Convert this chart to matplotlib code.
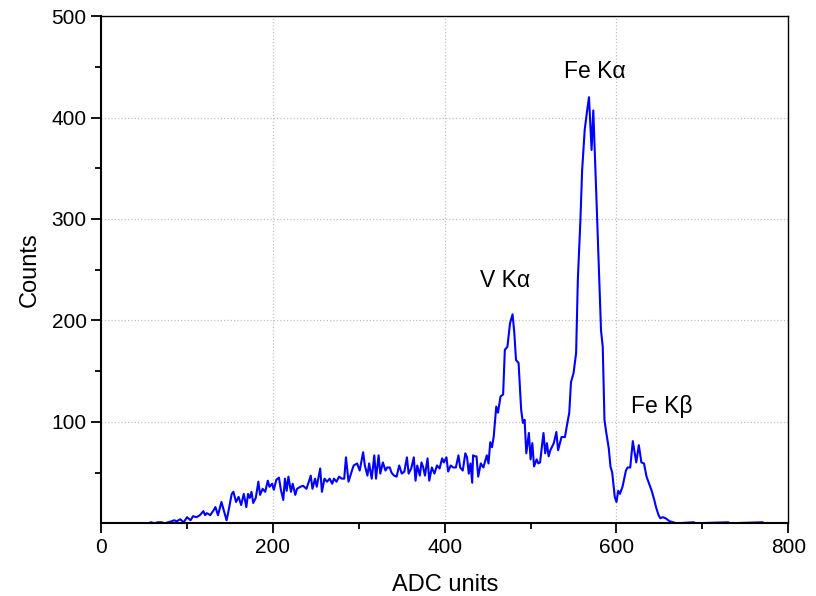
## Energy spectrum plot (ADC channel vs counts) with the main X-ray lines marked

import matplotlib.pyplot as plt
import numpy as np

plt.rcParams['font.family'] = ['Liberation Sans', 'DejaVu Sans']

## values, channel -> counts
adc = [0, 55, 58, 62, 66, 70, 74, 78, 82, 85, 88, 92, 96, 100, 104, 107, 111, 115,
       119, 121, 123, 127, 131, 133, 136, 140, 143, 146, 148, 152, 154, 157, 160,
       163, 166, 169, 171, 173, 175, 177, 180, 183, 185, 188, 191, 194, 196, 199,
       201, 204, 207, 209, 212, 214, 216, 218, 221, 223, 226, 228, 232, 235, 239,
       241, 244, 246, 249, 251, 255, 257, 260, 263, 266, 269, 271, 274, 277, 280,
       283, 285, 288, 292, 294, 298, 301, 305, 307, 310, 312, 315, 318, 320, 323,
       325, 328, 331, 333, 336, 338, 341, 344, 347, 350, 353, 356, 358, 361, 364,
       366, 368, 371, 373, 375, 377, 380, 382, 385, 388, 391, 394, 397, 399, 402,
       404, 407, 410, 413, 416, 418, 421, 424, 426, 428, 430, 432, 433, 435, 437,
       439, 442, 445, 449, 451, 453, 455, 457, 460, 462, 465, 468, 470, 473, 476,
       479, 481, 483, 486, 489, 491, 493, 495, 498, 500, 502, 504, 507, 509, 511,
       515, 517, 519, 521, 523, 527, 530, 532, 536, 540, 542, 545, 547, 550, 553,
       555, 558, 560, 563, 566, 568, 571, 573, 577, 582, 584, 586, 588, 591, 593,
       595, 598, 600, 602, 604, 607, 611, 613, 616, 619, 623, 626, 629, 632, 635,
       638, 641, 644, 646, 649, 651, 654, 657, 662, 666, 670, 690, 692, 730, 732,
       770, 772, 800]
counts = [0, 0, 1, 0, 1, 1, 0, 1, 2, 3, 2, 4, 1, 6, 3, 7, 6, 8,
          12, 8, 10, 8, 13, 16, 8, 21, 12, 3, 11, 29, 31, 21, 26,
          18, 29, 16, 29, 25, 31, 20, 25, 41, 28, 34, 31, 42, 36, 39,
          33, 43, 45, 34, 23, 44, 32, 46, 31, 39, 28, 34, 36, 37, 34,
          39, 47, 34, 44, 36, 54, 31, 44, 41, 44, 39, 44, 41, 46, 44,
          44, 65, 41, 52, 57, 59, 52, 70, 57, 47, 59, 44, 67, 44, 67,
          49, 60, 52, 55, 55, 50, 47, 46, 57, 49, 51, 65, 49, 54, 65,
          42, 57, 47, 60, 55, 47, 64, 42, 55, 49, 57, 54, 64, 60, 65,
          51, 57, 55, 55, 67, 55, 52, 69, 65, 49, 59, 40, 67, 66, 66,
          46, 59, 55, 67, 59, 80, 75, 85, 115, 109, 125, 127, 171, 174, 197,
          206, 188, 161, 158, 112, 99, 102, 69, 89, 63, 79, 56, 63, 59, 60,
          89, 69, 79, 66, 72, 79, 90, 72, 85, 85, 95, 109, 139, 148, 168,
          240, 299, 348, 388, 408, 420, 368, 407, 312, 190, 174, 102, 90, 74, 56,
          50, 26, 21, 32, 29, 36, 52, 55, 55, 81, 60, 77, 60, 59, 46,
          39, 32, 23, 16, 8, 5, 6, 5, 2, 1, 0, 1, 0, 1, 0,
          1, 0, 0]

peak_labels = ['V K\u03b1', 'Fe K\u03b1', 'Fe K\u03b2']
peak_x = [470, 575, 653]
peak_y = [228, 434, 104]

fig = plt.figure(figsize=(8.16, 5.96), dpi=100)
ax = fig.add_axes([0.124, 0.122, 0.842, 0.851])

ax.plot(adc, counts, color='#0000ff', lw=1.5)

for lab, px, py in zip(peak_labels, peak_x, peak_y):
    ax.text(px, py, lab, fontsize=16.5, ha='center', va='bottom')

ax.set_xlim(0, 800)
ax.set_ylim(0, 500)
ax.set_xticks(range(0, 801, 200))
ax.set_xticks(range(100, 800, 200), minor=True)
ax.set_yticks(range(100, 501, 100))
ax.set_yticks(range(50, 500, 100), minor=True)
ax.grid(True, which='major', ls=':', color='#c0c0c0', lw=0.9)
ax.tick_params(which='major', direction='out', length=7, width=1.3, labelsize=15)
ax.tick_params(which='minor', direction='out', length=4, width=1.3)
for side in ['left', 'bottom']:
    ax.spines[side].set_linewidth(1.5)
for side in ['top', 'right']:
    ax.spines[side].set_linewidth(1.0)

ax.set_xlabel("ADC units", fontsize=17, labelpad=12)
ax.set_ylabel("Counts", fontsize=17, labelpad=8)

plt.savefig("out.png")
